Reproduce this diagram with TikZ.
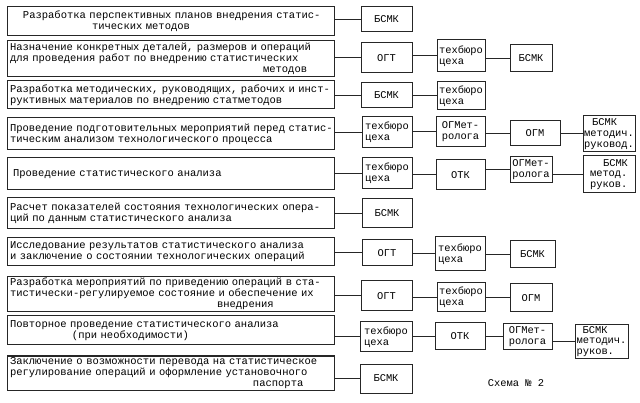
\documentclass[tikz,border=0pt]{standalone}
\usepackage{fontspec}
\setmainfont{Liberation Mono}
\newcommand{\tl}[1]{\mbox{#1}}
\begin{document}
\begin{tikzpicture}[x=1pt,y=-1pt,
  lb/.style={draw=black!85, line width=1pt, minimum width=327pt, text width=321pt,
    inner xsep=3pt, inner ysep=1pt, align=left, font=\fontsize{10.5}{11.2}\selectfont, text=black},
  sb/.style={draw=black!85, line width=1pt, inner sep=1pt, align=left,
    font=\fontsize{10.4}{10.8}\selectfont, text=black},
  conn/.style={draw=black!85, line width=1pt}]
\useasboundingbox[fill=white] (0,0) rectangle (640,403);
\newcommand{\rb}[6]{\node[sb, minimum width={#3-#2}, minimum height={#5-#4}] (#1) at ({(#2+#3)/2},{(#4+#5)/2}) {#6};}
\newcommand{\lbox}[4]{\node[lb, minimum height={#3-#2}] (#1) at (170.5,{(#2+#3)/2}) {#4};}
% left boxes
\lbox{L1}{7}{36}{\tl{\hspace*{13pt}Разработка перспективных планов внедрения статис-}\\\tl{\hspace*{82pt}тических методов}}
\lbox{L2}{41}{77}{\tl{Назначение конкретных деталей, размеров и операций}\\\tl{для проведения работ по внедрению статистических}\\\tl{\hspace*{253pt}методов}}
\lbox{L3}{81}{109}{\tl{Разработка методических, руководящих, рабочих и инст-}\\\tl{руктивных материалов по внедрению статметодов}}
\lbox{L4}{118}{150}{\tl{Проведение подготовительных мероприятий перед статис-}\\\tl{тическим анализом технологического процесса}}
\lbox{L5}{158}{190}{\tl{\hspace*{3pt}Проведение статистического анализа}}
\lbox{L6}{198}{229}{\tl{Расчет показателей состояния технологических опера-}\\\tl{ций по данным статистического анализа}}
\lbox{L7}{238}{266}{\tl{Исследование результатов статистического анализа}\\\tl{и заключение о состоянии технологических операций}}
\lbox{L8}{277}{311}{\tl{Разработка мероприятий по приведению операций в ста-}\\\tl{тистически-регулируемое состояние и обеспечение их}\\\tl{\hspace*{207pt}внедрения}}
\lbox{L9}{316}{345}{\tl{Повторное проведение статистического анализа}\\\tl{\hspace*{62pt}(при необходимости)}}
\lbox{L10}{356}{390}{\tl{Заключение о возможности перевода на статистическое}\\\tl{регулирование операций и оформление установочного}\\\tl{\hspace*{243pt}паспорта}}
% right boxes
\rb{A1}{361}{412}{7}{32}{БСМК}
\rb{A2}{361}{412}{43}{73}{ОГТ}
\rb{B2}{437}{485}{40}{72}{техбюро\\цеха}
\rb{C2}{510}{552}{45}{72}{БСМК}
\rb{A3}{361}{412}{83}{108}{БСМК}
\rb{B3}{437}{485}{82}{110}{техбюро\\цеха}
\rb{A4}{362}{412}{117}{148}{техбюро\\цеха}
\rb{B4}{436}{485}{117}{147}{ОГМет-\\ролога}
\rb{C4}{510}{560}{121}{146}{ОГМ}
\rb{D4}{583}{635}{116}{152}{\hspace*{8pt}БСМК\\методич.\\руковод.}
\rb{A5}{362}{412}{158}{189}{техбюро\\цеха}
\rb{B5}{436}{485}{160}{190}{ОТК}
\rb{C5}{510}{552}{157}{183}{ОГМет-\\ролога}
\rb{D5}{583}{635}{156}{193}{\hspace*{13pt}БСМК\\метод.\\руков.}
\rb{A6}{362}{412}{199}{228}{БСМК}
\rb{A7}{362}{412}{240}{266}{ОГТ}
\rb{B7}{435}{485}{237}{271}{техбюро\\цеха}
\rb{C7}{510}{555}{241}{268}{БСМК}
\rb{A8}{361}{412}{281}{311}{ОГТ}
\rb{B8}{437}{485}{283}{312}{техбюро\\цеха}
\rb{C8}{510}{552}{284}{312}{ОГМ}
\rb{A9}{360}{412}{322}{352}{техбюро\\цеха}
\rb{B9}{435}{485}{323}{350}{ОТК}
\rb{C9}{503}{552}{324}{350}{ОГМет-\\ролога}
\rb{D9}{575}{628}{325}{358}{\hspace*{6pt}БСМК\\методич.\\руков.}
\rb{A10}{360}{412}{364}{393}{БСМК}
\node[font=\fontsize{10.4}{12}\selectfont, text=black] (S) at (516,383) {Схема № 2};
% connectors
\foreach \l/\r in {L1/A1,L2/A2,A2/B2,B2/C2,L3/A3,A3/B3,L4/A4,A4/B4,B4/C4,C4/D4,
  L5/A5,A5/B5,B5/C5,C5/D5,L6/A6,L7/A7,A7/B7,B7/C7,L8/A8,A8/B8,B8/C8,
  L9/A9,A9/B9,B9/C9,C9/D9,L10/A10}
  \draw[conn] (\l.east |- \r.west) -- (\r.west);
\end{tikzpicture}
\end{document}
